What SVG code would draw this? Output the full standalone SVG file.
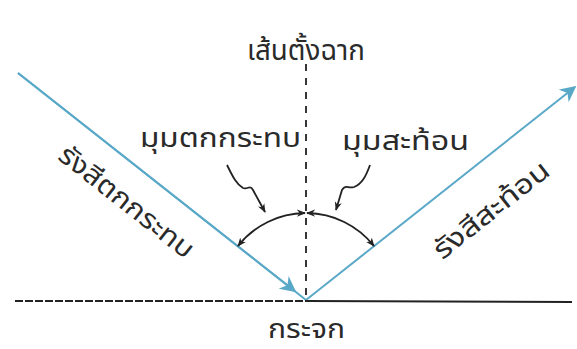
<svg xmlns="http://www.w3.org/2000/svg" width="577" height="349" viewBox="0 0 577 349">
<defs>
<style>
.t{font-family:"Noto Sans Thai","Noto Sans","DejaVu Sans",sans-serif;font-size:27px;fill:#2a2a2a;}
.big{font-size:29px;}
.ray{stroke:#5aa8c8;stroke-width:2;fill:none;}
.blk{stroke:#222;stroke-width:1.8;fill:none;}
</style>
<marker id="ab" viewBox="0 0 10 10" refX="9" refY="5" markerWidth="9" markerHeight="9" markerUnits="userSpaceOnUse" orient="auto-start-reverse"><path d="M0,1 L10,5 L0,9 L3,5 Z" fill="#222"/></marker>
<marker id="ar" viewBox="0 0 10 10" refX="9" refY="5" markerWidth="16" markerHeight="16" markerUnits="userSpaceOnUse" orient="auto"><path d="M0,0 L10,5 L0,10 L3,5 Z" fill="#5aa8c8"/></marker>
</defs>
<rect width="577" height="349" fill="#fff"/>
<g id="connectors">
<line class="ray" x1="18" y1="73" x2="306" y2="300"/>
<line class="ray" x1="18" y1="73" x2="295" y2="291.3" marker-end="url(#ar)"/>
<line class="ray" x1="306" y1="300" x2="575" y2="87" marker-end="url(#ar)"/>
<line x1="306" y1="64" x2="306" y2="300" stroke="#222" stroke-width="1.8" stroke-dasharray="7 7"/>
<line x1="15" y1="301" x2="306" y2="301" stroke="#222" stroke-width="2" stroke-dasharray="8 2"/>
<line x1="306" y1="301" x2="572" y2="302" stroke="#222" stroke-width="2.2"/>
<path class="blk" d="M305,213 A87,87 0 0 0 238,246" marker-start="url(#ab)" marker-end="url(#ab)"/>
<path class="blk" d="M307,213 A87,87 0 0 1 374,246" marker-start="url(#ab)" marker-end="url(#ab)"/>
<path class="blk" d="M227,165 C232,175 236,184 243,188 C248,190 250,184 253,190 L265,212" marker-end="url(#ab)"/>
<path class="blk" d="M370,165 C366,176 362,184 354,187 C348,189 346,184 342,190 L336,210" marker-end="url(#ab)"/>
</g>
<g id="label-normal"><text class="t big" x="247" y="60" textLength="118" lengthAdjust="spacingAndGlyphs">เส้นตั้งฉาก</text></g>
<g id="label-incident-angle"><text class="t" x="140" y="147" textLength="161" lengthAdjust="spacingAndGlyphs">มุมตกกระทบ</text></g>
<g id="label-reflect-angle"><text class="t" x="342" y="150" textLength="127" lengthAdjust="spacingAndGlyphs">มุมสะท้อน</text></g>
<g id="label-incident-ray"><text class="t" x="-82" y="0" textLength="164" lengthAdjust="spacingAndGlyphs" transform="translate(121,209) rotate(38.2)">รังสีตกกระทบ</text></g>
<g id="label-reflect-ray"><text class="t" x="-70" y="0" textLength="140" lengthAdjust="spacingAndGlyphs" transform="translate(497,217) rotate(-38.4)">รังสีสะท้อน</text></g>
<g id="label-mirror"><text class="t" x="268" y="338" textLength="77" lengthAdjust="spacingAndGlyphs">กระจก</text></g>
</svg>
